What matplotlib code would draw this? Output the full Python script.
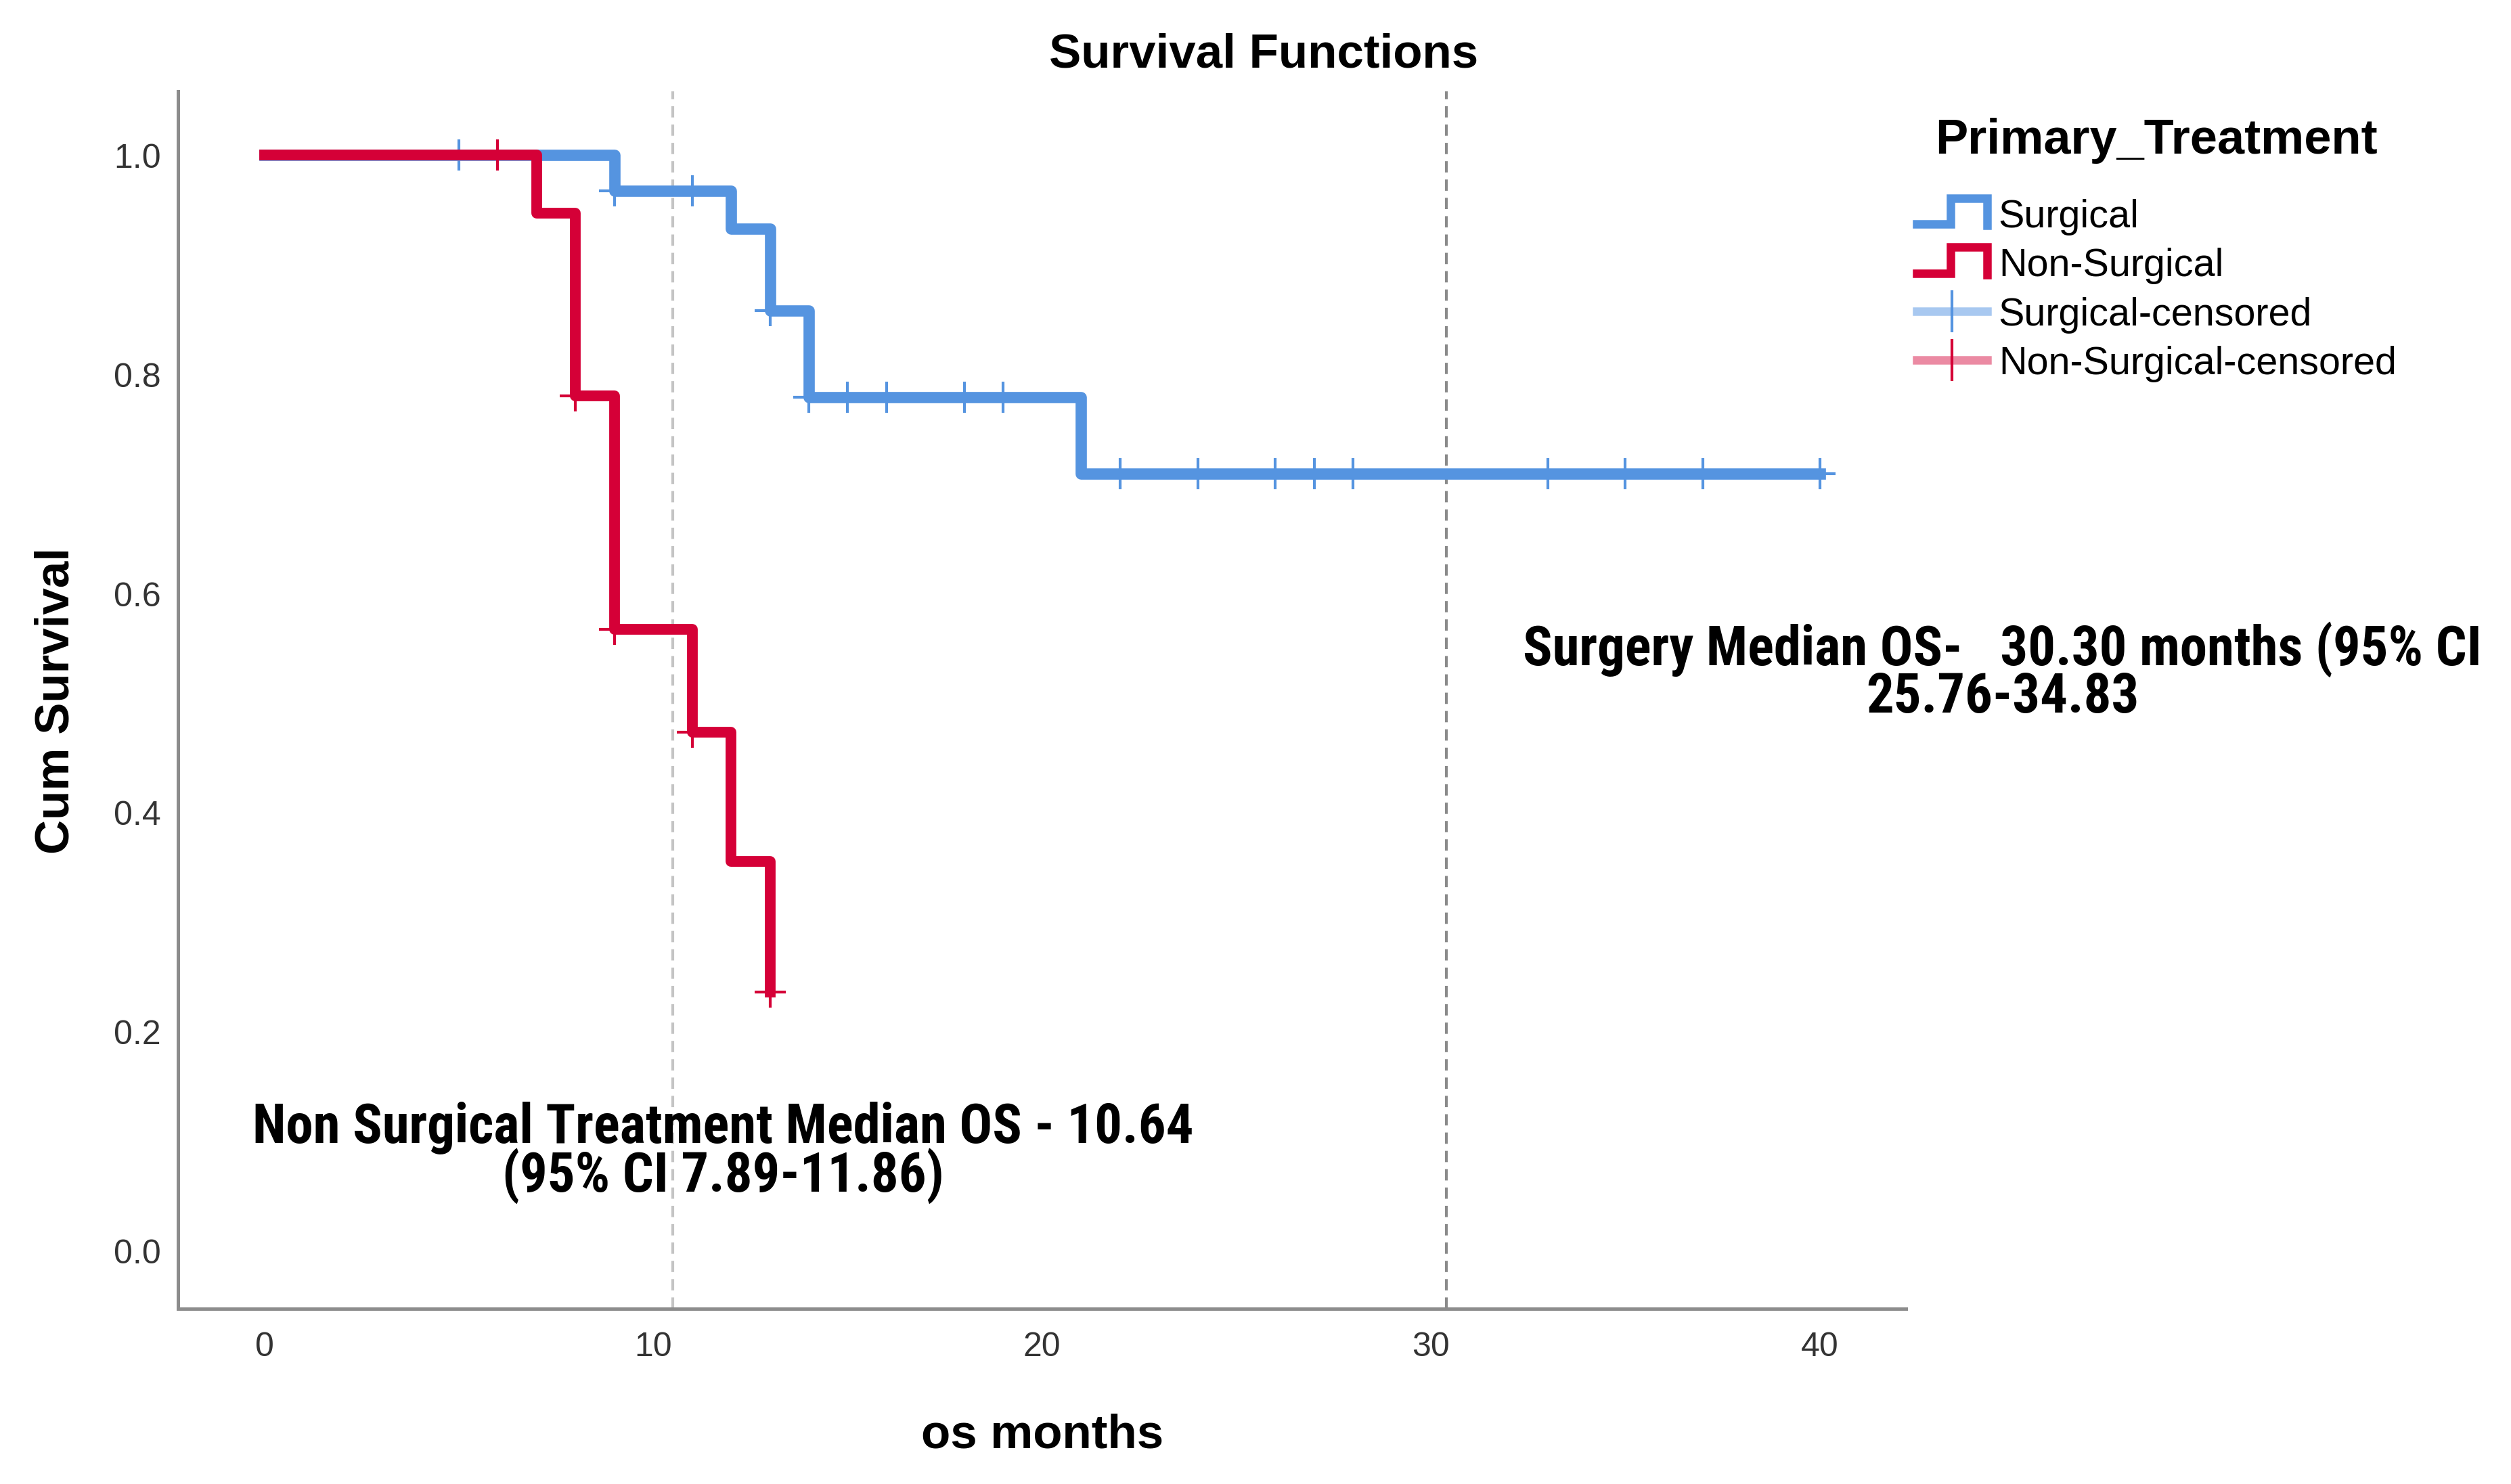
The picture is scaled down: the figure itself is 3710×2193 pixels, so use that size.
import numpy as np
import matplotlib
matplotlib.use("Agg")
import matplotlib.pyplot as plt
from matplotlib import font_manager as fm
from matplotlib.lines import Line2D
from matplotlib.legend_handler import HandlerBase

# Kaplan-Meier steps (time in months, cum survival)
surg_t = [0, 9, 12, 13, 14, 21]
surg_s = [1.0, 0.967, 0.933, 0.858, 0.779, 0.709]
surg_end = 40
surg_cens = [5, 9, 11, 13, 14, 15, 16, 18, 19, 22, 24, 26, 27, 28, 33, 35, 37, 40]

nons_t = [0, 7, 8, 9, 11, 12, 13]
nons_s = [1.0, 0.947, 0.780, 0.567, 0.473, 0.355, 0.236]
nons_end = 13
nons_cens = [6, 8, 9, 11, 13]

median_lines = [10.5, 30.4]
x_ticks = [0, 10, 20, 30, 40]
y_ticks = [0.0, 0.2, 0.4, 0.6, 0.8, 1.0]

blue = "#5594e0"
red = "#d50037"

plt.rcParams["font.family"] = ["Liberation Sans", "DejaVu Sans"]

names = {f.name for f in fm.fontManager.ttflist}
note_font = next((n for n in ["Roboto Condensed", "Liberation Sans Narrow",
                              "Open Sans Condensed", "DejaVu Sans Condensed"]
                  if n in names), None)


def step_value(t, times, surv):
    i = np.searchsorted(times, t, side="right") - 1
    return np.asarray(surv)[i]


class StepHandler(HandlerBase):
    # small "_|~|" icon like the SPSS legend
    def create_artists(self, legend, orig_handle, xdescent, ydescent,
                       width, height, fontsize, trans):
        x0, y0 = -xdescent, -ydescent
        xs = [x0, x0 + 0.48 * width, x0 + 0.48 * width, x0 + width, x0 + width]
        ys = [y0 + 0.1 * height, y0 + 0.1 * height, y0 + 1.05 * height,
              y0 + 1.05 * height, y0 + 0.05 * height]
        ln = Line2D(xs, ys, color=orig_handle.get_color(),
                    lw=3.0, solid_joinstyle="miter")
        ln.set_transform(trans)
        return [ln]


fig = plt.figure(figsize=(12.37, 7.313), dpi=300)
ax = fig.add_axes([0.0709, 0.118, 0.688, 0.820])

for x in median_lines:
    ax.axvline(x, color="#8a8a8a" if x > 20 else "#c4c4c4", lw=1.0,
               ls=(0, (4, 2.5)), zorder=1)

l1, = ax.step(surg_t + [surg_end], surg_s + [surg_s[-1]], where="post",
              color=blue, lw=4.0, zorder=2)
ax.plot(surg_cens, step_value(surg_cens, surg_t, surg_s), ls="none",
        marker="+", ms=11, mew=1.0, color=blue, zorder=3)
l2, = ax.step(nons_t + [nons_end], nons_s + [nons_s[-1]], where="post",
              color=red, lw=3.8, zorder=4)
ax.plot(nons_cens, step_value(nons_cens, nons_t, nons_s), ls="none",
        marker="+", ms=11, mew=1.0, color=red, zorder=5)

ax.set_xlim(-2.22, 42.22)
ax.set_ylim(-0.053, 1.058)
ax.set_xticks(x_ticks)
ax.set_yticks(y_ticks)
ax.set_yticklabels([f"{v:.1f}" for v in y_ticks])
ax.tick_params(axis="both", length=0, labelsize=12, colors="#333333")
ax.tick_params(axis="x", pad=8)
ax.tick_params(axis="y", pad=6)
for side in ["top", "right"]:
    ax.spines[side].set_visible(False)
for side in ["left", "bottom"]:
    ax.spines[side].set_color("#8c8c8c")
    ax.spines[side].set_linewidth(1.2)

ax.set_xlabel("os months", fontsize=17, fontweight="bold", labelpad=17.7)
ax.set_ylabel("Cum Survival", fontsize=17, fontweight="bold", labelpad=12.5)
fig.text(0.503, 1 - 82 / 2194, "Survival Functions", ha="center", va="center",
         fontsize=17, fontweight="bold")

note_kw = dict(ha="center", va="center", fontweight="bold", linespacing=0.85)
if note_font:
    note_kw["family"] = note_font
    note_size = 19.4
else:
    note_kw["fontstretch"] = "condensed"
    note_size = 14
ax.text(44.7, 0.528, "Surgery Median OS-   30.30 months (95% CI\n25.76-34.83",
        fontsize=note_size, **note_kw)
ax.text(11.8, 0.090, "Non Surgical Treatment Median OS - 10.64\n(95% CI 7.89-11.86)",
        fontsize=note_size, **note_kw)

h3 = Line2D([], [], color="#a8c8f0", lw=3, marker="|", ms=15, mew=1.0, mec=blue)
h4 = Line2D([], [], color="#eb8aa3", lw=3, marker="|", ms=15, mew=1.0, mec=red)
leg = fig.legend([l1, l2, h3, h4],
                 ["Surgical", "Non-Surgical", "Surgical-censored", "Non-Surgical-censored"],
                 handler_map={l1: StepHandler(), l2: StepHandler()},
                 loc="upper left", bbox_to_anchor=(2832 / 3711, 1 - 174 / 2194),
                 frameon=False, fontsize=13.8, handlelength=1.8, handletextpad=0.3,
                 labelspacing=0.32, borderpad=0, borderaxespad=0,
                 title="Primary_Treatment",
                 title_fontproperties={"weight": "bold", "size": 17.3})
leg._legend_box.align = "center"
leg._legend_box.sep = 12.5

fig.savefig("out.png", dpi=300)
